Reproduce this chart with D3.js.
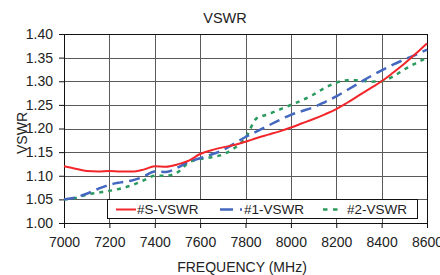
<!DOCTYPE html>
<html>
<head>
<meta charset="utf-8">
<script src="https://cdn.jsdelivr.net/npm/d3@7"></script>
<style>
    body { margin: 0; background: #fff; }
    svg text { font-family: "Liberation Sans", Arial, sans-serif; fill: #222; }
</style>
</head>
<body>
<div id="vswr-chart"></div>
<script>
//#region Data
const freqs = [
    7000, 7050, 7100, 7150, 7200, 7250, 7300, 7350, 7400, 7450, 7500,
    7550, 7600, 7650, 7700, 7750, 7800, 7850, 7900, 7950, 8000, 8050,
    8100, 8150, 8200, 8250, 8300, 8350, 8400, 8450, 8500, 8550, 8600
];

const vswrS = [
    1.120, 1.115, 1.110, 1.109, 1.110, 1.109, 1.109, 1.113, 1.120, 1.119, 1.124,
    1.132, 1.146, 1.154, 1.160, 1.165, 1.172, 1.180, 1.187, 1.194, 1.202, 1.211,
    1.220, 1.230, 1.241, 1.255, 1.270, 1.285, 1.300, 1.318, 1.337, 1.358, 1.380
];

const vswr1 = [
    1.050, 1.054, 1.062, 1.072, 1.081, 1.086, 1.090, 1.098, 1.109, 1.108, 1.117,
    1.130, 1.137, 1.145, 1.154, 1.168, 1.182, 1.194, 1.206, 1.218, 1.229, 1.237,
    1.245, 1.256, 1.268, 1.282, 1.296, 1.310, 1.323, 1.335, 1.346, 1.356, 1.367
];

const vswr2 = [
    1.050, 1.053, 1.060, 1.064, 1.068, 1.073, 1.080, 1.090, 1.100, 1.100, 1.107,
    1.128, 1.135, 1.139, 1.145, 1.158, 1.180, 1.222, 1.230, 1.240, 1.250, 1.260,
    1.272, 1.286, 1.297, 1.302, 1.302, 1.299, 1.300, 1.310, 1.325, 1.338, 1.350
];

const seriesNames = ["#S-VSWR", "#1-VSWR", "#2-VSWR"];
const xTicks = [7000, 7200, 7400, 7600, 7800, 8000, 8200, 8400, 8600];
const yTicks = [1.00, 1.05, 1.10, 1.15, 1.20, 1.25, 1.30, 1.35, 1.40];
//#endregion

document.addEventListener("DOMContentLoaded", function () {
    createChart();
});

function createChart() {
    const margin = { top: 34, right: 13, bottom: 52, left: 64 };
    const width = 440 - margin.left - margin.right;
    const height = 275 - margin.top - margin.bottom;

    const svg = d3.select("#vswr-chart")
        .append("svg")
        .attr("width", 440)
        .attr("height", 275);

    const g = svg.append("g")
        .attr("transform", `translate(${margin.left},${margin.top})`);

    const x = d3.scaleLinear().domain([7000, 8600]).range([0, width]);
    const y = d3.scaleLinear().domain([1.00, 1.40]).range([height, 0]);

    // grid lines
    g.append("g")
        .selectAll("line")
        .data(xTicks)
        .enter()
        .append("line")
        .attr("x1", d => Math.round(x(d)) + 0.5)
        .attr("x2", d => Math.round(x(d)) + 0.5)
        .attr("y1", 0)
        .attr("y2", height)
        .attr("stroke", "#5a5a5a")
        .attr("stroke-width", 1);

    g.append("g")
        .selectAll("line")
        .data(yTicks)
        .enter()
        .append("line")
        .attr("x1", 0)
        .attr("x2", width)
        .attr("y1", d => Math.round(y(d)) + 0.5)
        .attr("y2", d => Math.round(y(d)) + 0.5)
        .attr("stroke", "#5a5a5a")
        .attr("stroke-width", 1);

    // plot border
    g.append("rect")
        .attr("x", 0.5)
        .attr("y", 0.5)
        .attr("width", width)
        .attr("height", height)
        .attr("fill", "none")
        .attr("stroke", "#111");

    // axes
    const xAxis = g.append("g")
        .attr("transform", `translate(0,${height})`)
        .call(d3.axisBottom(x).tickValues(xTicks).tickFormat(d3.format("d")).tickSize(5).tickPadding(9));

    const yAxis = g.append("g")
        .call(d3.axisLeft(y).tickValues(yTicks).tickFormat(d3.format(".2f")).tickSize(5).tickPadding(6));

    [xAxis, yAxis].forEach(a => {
        a.select(".domain").remove();
        a.selectAll("line").attr("stroke", "#111");
        a.selectAll("text")
            .style("font-family", "'Liberation Sans', Arial, sans-serif")
            .style("font-size", "14px")
            .attr("fill", "#222");
    });

    // lines
    const styles = [
        { data: vswrS, color: "#f2262a", width: 2, dash: null },
        { data: vswr1, color: "#4468bf", width: 2.5, dash: "11,6" },
        { data: vswr2, color: "#2b9a5e", width: 2.5, dash: "4,5" }
    ];

    const line = d3.line()
        .x(d => x(d[0]))
        .y(d => y(d[1]))
        .curve(d3.curveMonotoneX);

    // draw green first so red sits on top like the original
    [2, 1, 0].forEach(i => {
        const s = styles[i];
        g.append("path")
            .datum(freqs.map((f, j) => [f, s.data[j]]))
            .attr("fill", "none")
            .attr("stroke", s.color)
            .attr("stroke-width", s.width)
            .attr("stroke-dasharray", s.dash)
            .attr("d", line);
    });

    // legend box
    const legend = svg.append("g").attr("transform", "translate(107,199)");
    legend.append("rect")
        .attr("x", 0.5)
        .attr("y", 0.5)
        .attr("width", 310)
        .attr("height", 19)
        .attr("fill", "#fff")
        .attr("stroke", "#111");

    const legendPos = [
        { lx: 9, lw: 20, tx: 30 },
        { lx: 113, lw: 22, tx: 137 },
        { lx: 216, lw: 16, tx: 240 }
    ];

    legendPos.forEach((p, i) => {
        legend.append("line")
            .attr("x1", p.lx)
            .attr("x2", p.lx + p.lw)
            .attr("y1", 10.5)
            .attr("y2", 10.5)
            .attr("stroke", styles[i].color)
            .attr("stroke-width", styles[i].width)
            .attr("stroke-dasharray", i === 1 ? "13,7" : (i === 2 ? "4.5,5.5" : null));

        legend.append("text")
            .attr("x", p.tx)
            .attr("y", 15)
            .style("font-size", "13.5px")
            .text(seriesNames[i]);
    });

    // title
    svg.append("text")
        .attr("x", 225)
        .attr("y", 22.5)
        .style("text-anchor", "middle")
        .style("font-size", "14.5px")
        .text("VSWR");

    // x-axis label
    svg.append("text")
        .attr("x", 242)
        .attr("y", 272)
        .style("text-anchor", "middle")
        .style("font-size", "14px")
        .text("FREQUENCY (MHz)");

    // y-axis label
    svg.append("text")
        .attr("transform", "rotate(-90)")
        .attr("x", -133)
        .attr("y", 26.5)
        .style("text-anchor", "middle")
        .style("font-size", "14px")
        .text("VSWR");
}
</script>
</body>
</html>
